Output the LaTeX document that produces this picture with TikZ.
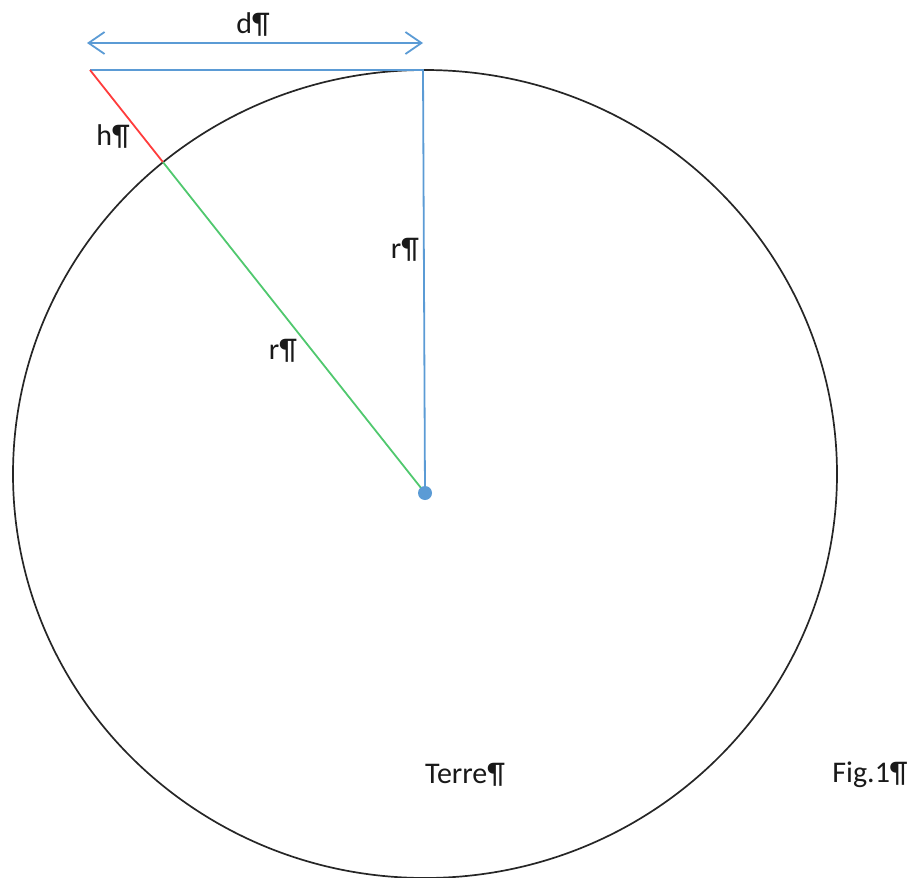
\documentclass[tikz,border=0pt]{standalone}
\usepackage{fontspec}
\setmainfont{Carlito}
\usepackage{xcolor}
\usetikzlibrary{arrows.meta}
\usetikzlibrary{calc,intersections}
\definecolor{lineblue}{RGB}{91,155,213}
\definecolor{linered}{RGB}{255,60,60}
\definecolor{linegreen}{RGB}{80,200,110}
\tikzstyle{blueline}=[draw=lineblue, line width=1.8pt]
\tikzstyle{lbl}=[font=\fontsize{30}{34}\selectfont, inner sep=0pt, text=black!90]

\begin{document}
\begin{tikzpicture}[x=1pt,y=-1pt]
%
\useasboundingbox (0,0) rectangle (911,878);
	\coordinate (o) at (425,474);
	\coordinate (c) at (425,493);
	\coordinate (t) at (423,70);
	\coordinate (p) at (90,70);
	\coordinate (al) at (87,43);
	\coordinate (ar) at (423,43);
%
	\draw[name path=earth, line width=1.7pt, black!85] (o) ellipse (412 and 404);
	\path[name path=ray] (p) -- (c);
	\path[name intersections={of=earth and ray, by=i}];
%
	\draw[blueline] (p) -- (t) -- (c);
	\draw[linered, line width=1.8pt] (p) -- (i);
	\draw[linegreen, line width=1.8pt] (i) -- (c);
	\draw[blueline, {Straight Barb[length=16pt,width=22pt]}-{Straight Barb[length=16pt,width=22pt]}] (al) -- (ar);
	\fill[lineblue] (c) circle (7);
%
	\node[lbl] (d) at (253,25) {d¶};
	\node[lbl] (h) at (113,137) {h¶};
	\node[lbl] (rv) at (405,250) {r¶};
	\node[lbl] (rg) at (283,351) {r¶};
	\node[lbl] (terre) at (465,775) {Terre¶};
	\node[lbl] (fig) at (870,775) {Fig.1¶};
\end{tikzpicture}
\end{document}
